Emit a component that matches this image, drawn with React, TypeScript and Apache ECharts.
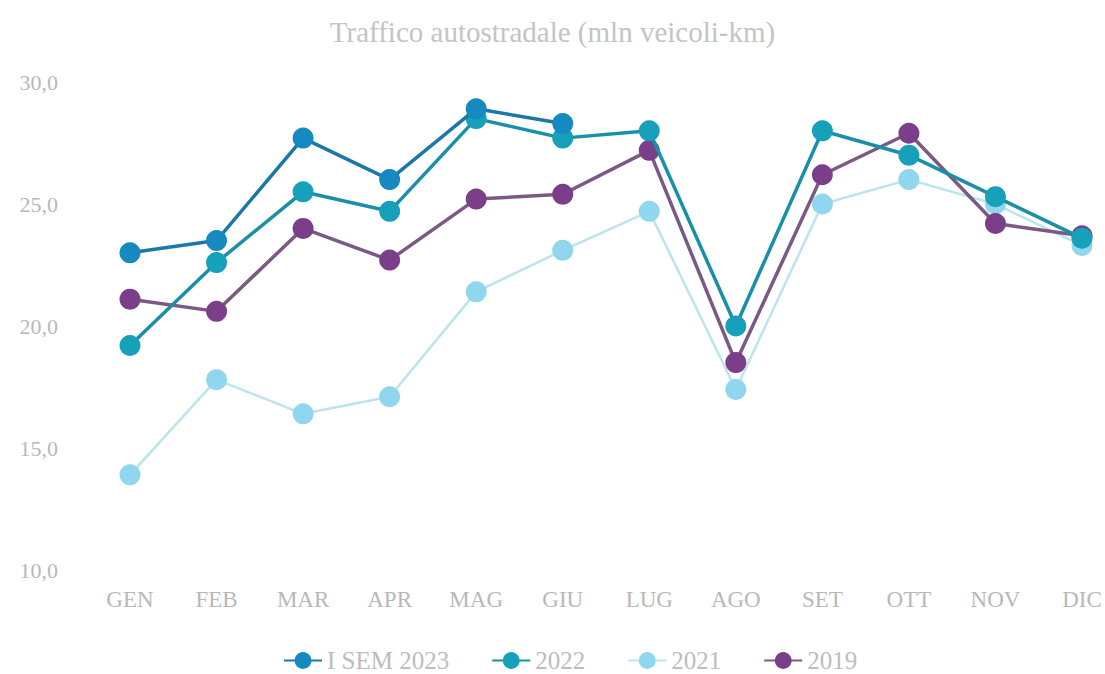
import React, { useEffect, useRef } from "react";
import * as echarts from "echarts";

const months = ["GEN", "FEB", "MAR", "APR", "MAG", "GIU", "LUG", "AGO", "SET", "OTT", "NOV", "DIC"];
const sem2023 = [23.0, 23.5, 27.7, 26.0, 28.9, 28.3];
const y2022 = [19.2, 22.6, 25.5, 24.7, 28.5, 27.7, 28.0, 20.0, 28.0, 27.0, 25.3, 23.6];
const y2021 = [13.9, 17.8, 16.4, 17.1, 21.4, 23.1, 24.7, 17.4, 25.0, 26.0, 25.0, 23.3];
const y2019 = [21.1, 20.6, 24.0, 22.7, 25.2, 25.4, 27.2, 18.5, 26.2, 27.9, 24.2, 23.7];

const FONT = "'Liberation Serif', 'DejaVu Serif', serif";

export default function App() {
  const ref = useRef<HTMLDivElement>(null);
  useEffect(() => {
    if (!ref.current) return;
    const chart = echarts.init(ref.current, null, { renderer: "svg" });
    const mk = (name: string, data: number[], color: string, lineColor: string, width: number, z: number) => ({
      name,
      type: "line",
      data,
      symbol: "circle",
      symbolSize: 21,
      z,
      itemStyle: { color },
      lineStyle: { color: lineColor, width },
      emphasis: { disabled: true },
    });
    chart.setOption({
      animation: false,
      backgroundColor: "#ffffff",
      title: {
        text: "Traffico autostradale (mln veicoli-km)",
        left: "center",
        top: 12,
        textStyle: { fontFamily: FONT, fontSize: 29, fontWeight: "normal", color: "#c4c4c4" },
      },
      grid: { left: 130, right: 23, top: 82, bottom: 104, containLabel: false },
      xAxis: {
        type: "category",
        data: months,
        boundaryGap: false,
        axisLine: { show: false },
        axisTick: { show: false },
        axisLabel: { margin: 18, fontFamily: FONT, fontSize: 23, color: "#b8b8b8" },
        splitLine: { show: false },
      },
      yAxis: {
        type: "value",
        min: 10,
        max: 30,
        interval: 5,
        axisLine: { show: false },
        axisTick: { show: false },
        splitLine: { show: false },
        axisLabel: {
          margin: 72,
          fontFamily: FONT,
          fontSize: 22,
          color: "#b8b8b8",
          formatter: (v: number) => v.toFixed(1).replace(".", ","),
        },
      },
      legend: {
        bottom: -4,
        left: 278,
        itemGap: 42,
        itemWidth: 38,
        itemHeight: 21,
        textStyle: { fontFamily: FONT, fontSize: 25, color: "#bdbdbd" },
        data: ["I SEM 2023", "2022", "2021", "2019"],
      },
      series: [
        mk("2021", y2021, "#8fd6ee", "#bde4ec", 2.5, 2),
        mk("2019", y2019, "#7b3f8a", "#7a5a82", 3.5, 3),
        mk("2022", y2022, "#17a0b9", "#1a8fa8", 3.5, 4),
        mk("I SEM 2023", sem2023, "#1589c0", "#1a78a8", 3.5, 5),
      ],
    });
    return () => chart.dispose();
  }, []);
  return <div ref={ref} style={{ width: 1105, height: 674, position: "absolute", left: 0, top: 0 }} />;
}
